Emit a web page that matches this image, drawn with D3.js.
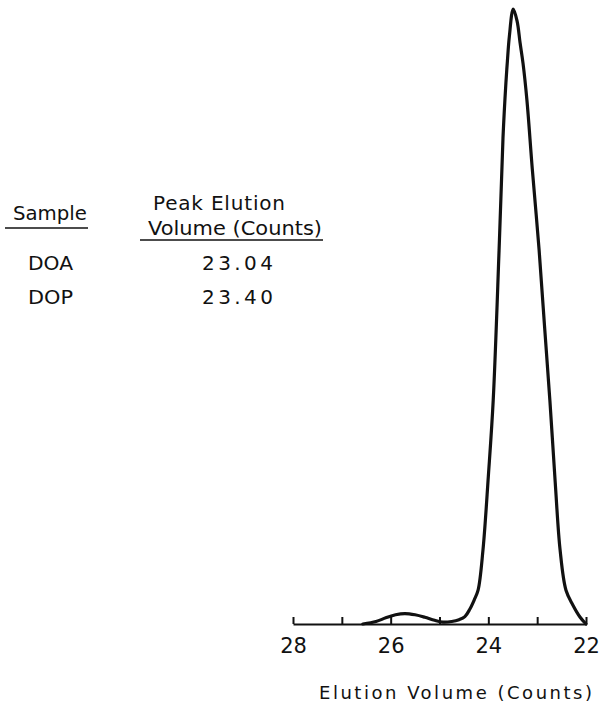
<!DOCTYPE html>
<html>
<head>
<meta charset="utf-8">
<script src="https://cdn.jsdelivr.net/npm/d3@7"></script>
<style>
  html, body { margin: 0; padding: 0; background: #fff; }
  svg { display: block; }
  text { font-family: "DejaVu Sans", "Liberation Sans", sans-serif; fill: #111; }
</style>
</head>
<body>
<script>
// Elution trace: elution volume (counts) vs. detector response (relative units)
const elutionVolume = [26.57, 26.30, 26.10, 25.90, 25.71, 25.50, 25.30, 25.10, 24.93, 24.75, 24.60, 24.48,
  24.38, 24.29, 24.21, 24.11, 24.00, 23.90, 23.78, 23.70, 23.64, 23.61, 23.57, 23.49,
  23.41, 23.35, 23.29, 23.21, 23.10, 22.96, 22.85, 22.74, 22.63, 22.53, 22.41, 22.27, 22.12, 22.00];
const response = [0.0, 0.4, 1.0, 1.5, 1.7, 1.5, 1.1, 0.6, 0.3, 0.4, 0.7, 1.2,
  2.4, 3.9, 5.5, 12.0, 24.0, 36.4, 60.8, 79.0, 88.0, 91.5, 95.5, 100.0,
  98.0, 94.5, 91.2, 85.2, 74.0, 60.8, 48.5, 36.4, 23.0, 12.0, 5.5, 3.1, 1.1, 0.0];

const xTicks = [28, 27, 26, 25, 24, 23, 22];
const xTickLabels = ["28", "", "26", "", "24", "", "22"];

// Inset table
const tableHeader = ["Sample", "Peak Elution", "Volume (Counts)"];
const samples = ["DOA", "DOP"];
const peakVolumes = ["23.04", "23.40"];

const width = 600, height = 712;
const svg = d3.select("body").append("svg")
  .attr("width", width).attr("height", height);

const x = d3.scaleLinear().domain([28, 22]).range([293, 586]);
const y = d3.scaleLinear().domain([0, 100]).range([624, 9]);

// Axis with upward ticks
const axis = d3.axisBottom(x)
  .tickValues(xTicks)
  .tickFormat((d, i) => xTickLabels[i])
  .tickSizeInner(-7)
  .tickSizeOuter(0)
  .tickPadding(14);

const gAxis = svg.append("g")
  .attr("transform", `translate(0,${y(0)})`)
  .call(axis);
gAxis.select(".domain").attr("stroke", "#111").attr("stroke-width", 2);
gAxis.selectAll(".tick line").attr("stroke", "#111").attr("stroke-width", 2);
gAxis.selectAll(".tick text")
  .attr("font-size", 21)
  .attr("font-family", "DejaVu Sans, sans-serif")
  .attr("fill", "#111");

// Trace
const pts = elutionVolume.map((v, i) => [v, response[i]]);
const line = d3.line()
  .x(d => x(d[0]))
  .y(d => y(d[1]))
  .curve(d3.curveCatmullRom.alpha(0.5));

svg.append("path")
  .datum(pts)
  .attr("d", line)
  .attr("fill", "none")
  .attr("stroke", "#111")
  .attr("stroke-width", 3.2)
  .attr("stroke-linejoin", "round")
  .attr("stroke-linecap", "round");

// Axis title
svg.append("text")
  .attr("x", 319).attr("y", 699)
  .attr("font-size", 18)
  .attr("textLength", 273).attr("lengthAdjust", "spacing")
  .text("Elution Volume (Counts)");

// Table
const tbl = svg.append("g");
tbl.append("text").attr("x", 13).attr("y", 220).attr("font-size", 20)
  .attr("textLength", 74).attr("lengthAdjust", "spacingAndGlyphs").text(tableHeader[0]);
tbl.append("line").attr("x1", 5).attr("x2", 88).attr("y1", 228).attr("y2", 228)
  .attr("stroke", "#111").attr("stroke-width", 1.5);

tbl.append("text").attr("x", 153).attr("y", 210).attr("font-size", 20)
  .attr("textLength", 132).attr("lengthAdjust", "spacing").text(tableHeader[1]);
tbl.append("text").attr("x", 148).attr("y", 235).attr("font-size", 20)
  .attr("textLength", 174).attr("lengthAdjust", "spacingAndGlyphs").text(tableHeader[2]);
tbl.append("line").attr("x1", 140).attr("x2", 323).attr("y1", 240).attr("y2", 240)
  .attr("stroke", "#111").attr("stroke-width", 1.5);

const rowY = [270, 304];
samples.forEach((s, i) => {
  tbl.append("text").attr("x", 28).attr("y", rowY[i]).attr("font-size", 20)
    .attr("textLength", 45).attr("lengthAdjust", "spacingAndGlyphs").text(s);
  tbl.append("text").attr("x", 202).attr("y", rowY[i]).attr("font-size", 20)
    .attr("textLength", 71).attr("lengthAdjust", "spacing").text(peakVolumes[i]);
});
</script>
</body>
</html>
